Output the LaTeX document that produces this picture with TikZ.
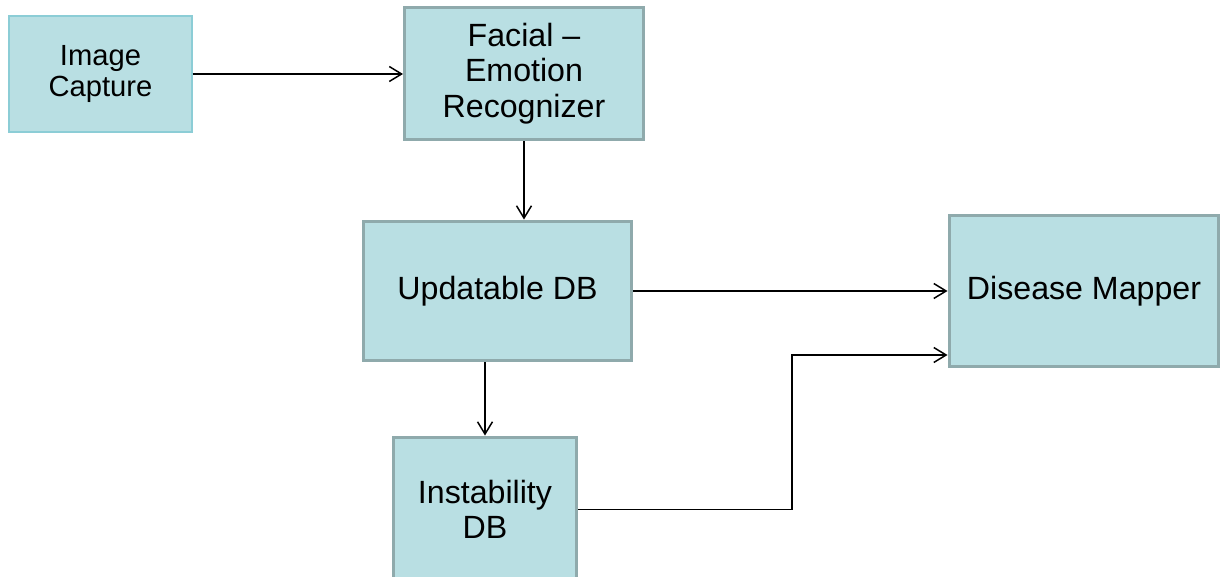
\documentclass[tikz,border=0pt]{standalone}
\usepackage{fontspec}
\setmainfont{Liberation Sans}
\usepackage{tikz}
\usetikzlibrary{arrows.meta, positioning, calc}
\usepackage{xcolor}

\definecolor{boxfill}{HTML}{B9DFE3}
\definecolor{boxline}{HTML}{8FAAAC}
\definecolor{camline}{HTML}{8CCDD6}

\tikzset{
	block/.style={draw=boxline, line width=1.7pt, fill=boxfill, align=center,
		inner sep=0pt, font=\fontsize{18.3}{20.2}\selectfont},
	flow/.style={-{Straight Barb[length=7pt, width=8.5pt]}, line width=0.85pt, black}
}

\begin{document}
\begin{tikzpicture}[x=0.02cm, y=-0.02cm]
			% Fix the canvas (pixel grid of the reference)
			\useasboundingbox (0,0) rectangle (1221,577);
			
			% Draw the blocks
			\node[block, draw=camline, line width=0.85pt, minimum width=3.66cm, minimum height=2.32cm,
				font=\fontsize{16.6}{18}\selectfont] (capture) at (100.5,74) {Image\\Capture};
			\node[block, minimum width=4.78cm, minimum height=2.66cm] (recognizer) at (524,73.5) {Facial --\\Emotion\\Recognizer};
			\node[block, minimum width=5.38cm, minimum height=2.8cm] (updatable) at (497.5,291) {Updatable DB};
			\node[block, minimum width=3.68cm, minimum height=2.9cm] (instability) at (485,509.5) {Instability\\DB};
			\node[block, minimum width=5.4cm, minimum height=3.04cm] (mapper) at (1084,291) {Disease Mapper};
			
			% Bend point of the lower connector
			\coordinate (bend) at (792,355);
			
			% Draw the connectors
			\draw[flow] (capture.east) -- (capture.east -| recognizer.west);
			\draw[flow] (recognizer.south) -- (recognizer.south |- updatable.north);
			\draw[flow] (updatable.east) -- (updatable.east -| mapper.west);
			\draw[flow] (instability.north |- updatable.south) -- (instability.north);
			\draw[flow] (instability.east) -| (bend) -- (bend -| mapper.west);
			
		\end{tikzpicture}
\end{document}
